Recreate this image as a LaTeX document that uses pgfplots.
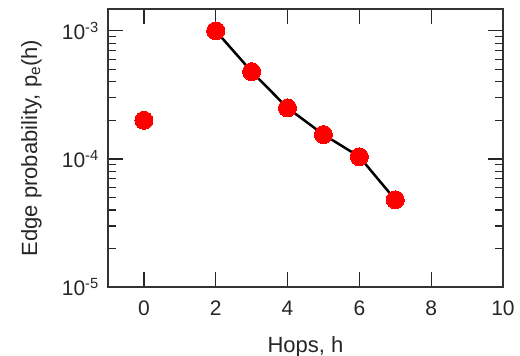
\documentclass[border=0pt]{standalone}
\usepackage{fontspec}
\setmainfont{Liberation Sans}
\usepackage{pgfplots}
\pgfplotsset{compat=1.18}
\begin{document}
\fontsize{21}{25}\selectfont
\begin{tikzpicture}
\begin{axis}[
  scale only axis, width=395pt, height=278pt,
  xmin=-1, xmax=10, ymode=log, ymin=1e-5, ymax=1.48e-3,
  xtick={0,2,4,6,8,10}, xticklabels={0,2,4,6,8,10},
  ytick={1e-5,1e-4,1e-3},
  yticklabels={10\textsuperscript{-5},10\textsuperscript{-4},10\textsuperscript{-3}},
  tick align=inside, major tick length=15pt, minor tick length=8pt,
  axis line style={line width=1.5pt, black!80},
  every tick/.style={black!85, line width=1.3pt},
  tick label style={font=\fontsize{21}{25}\selectfont, text=black!85},
  label style={font=\fontsize{22}{26}\selectfont, text=black!85},
  xlabel={Hops, h}, ylabel={Edge probability, p\textsubscript{e}(h)},
  xlabel style={yshift=-6pt},
  ylabel style={yshift=6pt},
  xticklabel style={yshift=-7pt},
  yticklabel style={xshift=-2pt},
  clip=false,
]
\addplot[black, line width=2.5pt, mark=*, mark size=9pt, mark options={draw=red, fill=red, line width=0pt}]
  coordinates {(2,1e-3) (3,4.8e-4) (4,2.5e-4) (5,1.55e-4) (6,1.04e-4) (7,4.8e-5)};
\addplot[only marks, mark=*, mark size=9pt, mark options={draw=red, fill=red, line width=0pt}]
  coordinates {(0,2e-4)};
\end{axis}
\pgfresetboundingbox
\path ([shift={(-108pt,-69pt)}]current axis.south west) rectangle ([shift={(17pt,9pt)}]current axis.north east);
\end{tikzpicture}
\end{document}
